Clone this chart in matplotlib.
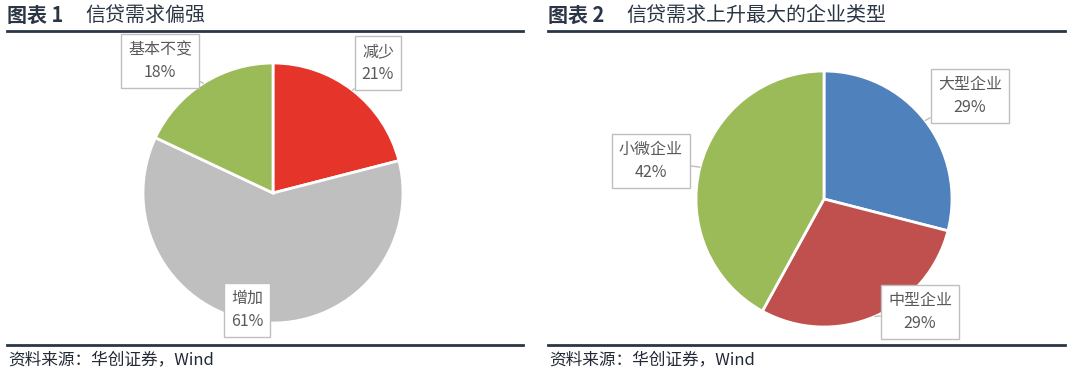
import numpy as np
import matplotlib
matplotlib.use("Agg")
import matplotlib.pyplot as plt
from matplotlib.lines import Line2D

plt.rcParams["font.family"] = ["Noto Sans CJK SC", "DejaVu Sans"]

# -------------------------
# data
# -------------------------
title1 = ("图表 1", "信贷需求偏强")
labels1 = ["减少", "增加", "基本不变"]
values1 = [21, 61, 18]
colors1 = ["#E5352A", "#BFBFBF", "#9BBB59"]

title2 = ("图表 2", "信贷需求上升最大的企业类型")
labels2 = ["大型企业", "中型企业", "小微企业"]
values2 = [29, 29, 42]
colors2 = ["#4F81BD", "#C0504D", "#9BBB59"]

source = "资料来源：华创证券，Wind"

W, H = 1080, 381
fig = plt.figure(figsize=(W / 100, H / 100), dpi=100)
fig.patch.set_facecolor("white")

NAVY = "#2B3645"
TXT = "#595959"


def add_pie(cx, cy, r, values, labels, colors, box_centers):
    # cx, cy in image pixels (y from top)
    fy = H - cy
    ax = fig.add_axes([(cx - r) / W, (fy - r) / H, 2 * r / W, 2 * r / H])
    wedges, _ = ax.pie(values, colors=colors, startangle=90, counterclock=False,
                       radius=1, wedgeprops=dict(edgecolor="white", linewidth=2))
    ax.set_xlim(-1, 1)
    ax.set_ylim(-1, 1)
    ax.set_aspect("equal")
    ax.axis("off")
    for w, lab, v, (bx, by) in zip(wedges, labels, values, box_centers):
        ang = np.deg2rad((w.theta1 + w.theta2) / 2)
        xy = (np.cos(ang), np.sin(ang))
        ax.annotate(f"{lab}\n{v}%", xy=xy, xycoords="data",
                    xytext=(bx, H - by), textcoords="figure pixels",
                    ha="center", va="center", fontsize=11.5, color=TXT,
                    linespacing=1.45, annotation_clip=False,
                    bbox=dict(boxstyle="square,pad=0.45", fc="white", ec="#BFBFBF", lw=1),
                    arrowprops=dict(arrowstyle="-", color="#BFBFBF", lw=1,
                                    shrinkA=0, shrinkB=0))
    return ax


add_pie(273, 193, 130, values1, labels1, colors1,
        [(378, 63), (247, 310), (160, 61)])
add_pie(824, 199, 128, values2, labels2, colors2,
        [(970, 96), (920, 312), (651, 161)])


def header(x0, x1, title):
    fig.text(x0 / W, 1 - 15 / H, title[0], fontsize=14.4, fontweight="bold",
             color=NAVY, ha="left", va="center")
    fig.text((x0 + 78) / W, 1 - 15 / H, title[1], fontsize=14.4, fontweight="medium",
             color=NAVY, ha="left", va="center")
    fig.add_artist(Line2D([x0 / W, x1 / W], [1 - 31 / H, 1 - 31 / H],
                          color=NAVY, lw=2))
    fig.add_artist(Line2D([x0 / W, x1 / W], [1 - 345 / H, 1 - 345 / H],
                          color=NAVY, lw=2))
    fig.text((x0 + 1) / W, 1 - 360 / H, source, fontsize=12, style="italic",
             color="#222A35", ha="left", va="center")


header(7, 523, title1)
header(548, 1065, title2)

fig.savefig("out.png", dpi=100, facecolor="white")
